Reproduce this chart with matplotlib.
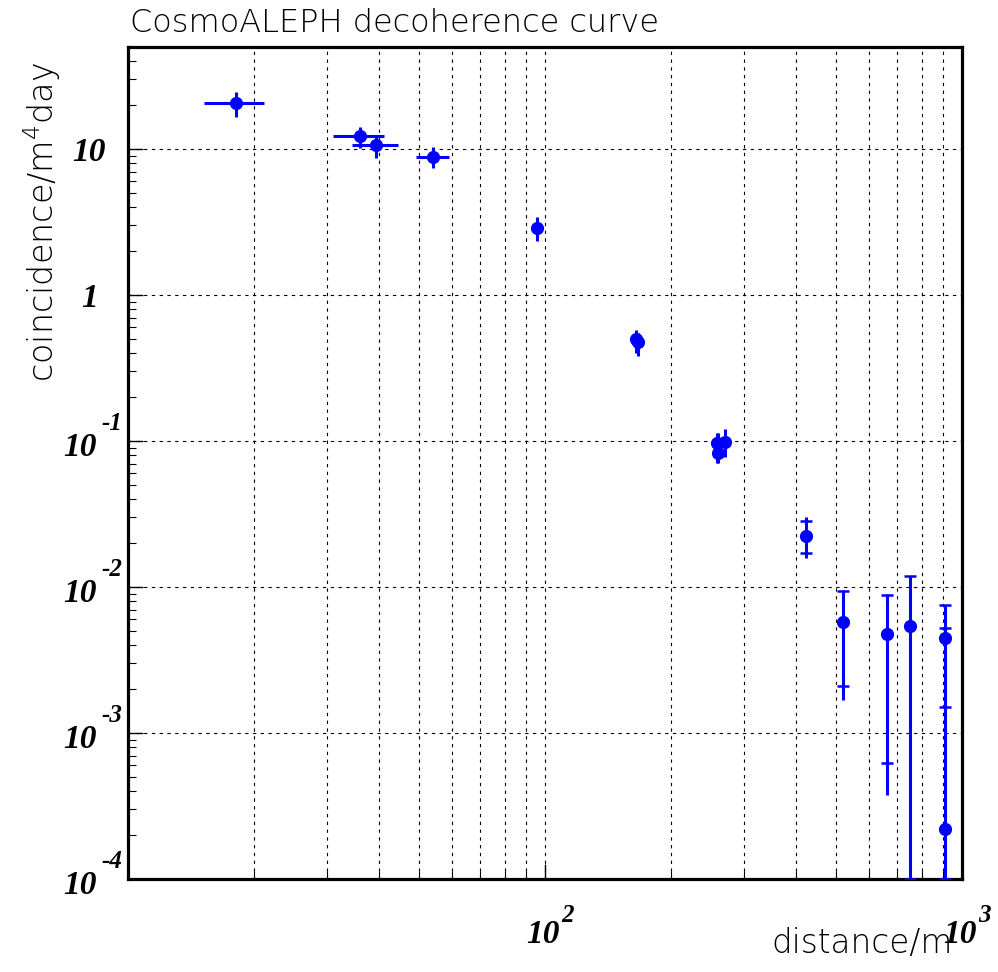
import numpy as np
import matplotlib
matplotlib.use("Agg")
from matplotlib import pyplot as plt
from matplotlib.ticker import FixedLocator, NullFormatter

# data (distance in m, rate in coincidences / m^4 day)
dist = [18.2, 36.0, 39.4, 53.8, 95.7, 165.0, 167.0, 258.5, 260.0, 270.0,
        423.0, 519.0, 661.0, 750.0, 910.0, 910.0]
rate = [20.7, 12.3, 10.6, 8.8, 2.88, 0.50, 0.476, 0.0968, 0.0828, 0.0984,
        0.0223, 0.00575, 0.00476, 0.0054, 0.00448, 0.00022]
dist_lo = [15.2, 31.0, 34.4, 49.1, 93.1, 165.0, 167.0, 258.5, 260.0, 270.0,
           423.0, 519.0, 661.0, 750.0, 910.0, 910.0]
dist_hi = [21.2, 41.1, 44.4, 58.9, 98.9, 165.0, 167.0, 258.5, 260.0, 270.0,
           423.0, 519.0, 661.0, 750.0, 910.0, 910.0]
rate_lo = [16.6, 10.2, 8.7, 7.4, 2.34, 0.40, 0.382, 0.0706, 0.0706, 0.0777,
           0.0158, 0.00168, 0.000376, 1e-5, 0.00151, 1e-5]
rate_hi = [24.6, 14.2, 12.3, 10.3, 3.42, 0.575, 0.55, 0.1135, 0.1135, 0.1207,
           0.030, 0.0095, 0.00895, 0.0119, 0.00753, 0.00524]

# end ticks drawn on the larger error bars
cap_x = [423.0, 423.0, 519.0, 519.0, 661.0, 661.0, 750.0, 750.0,
         910.0, 910.0, 910.0, 910.0]
cap_y = [0.0283, 0.0171, 0.0094, 0.0021, 0.0088, 0.00062, 0.0119, 1.0e-4,
         0.00753, 0.00151, 0.00524, 1.0e-4]

# axis labels: (tick value, mantissa, exponent)
x_ticks = [100, 1000]
x_tick_base = ['10', '10']
x_tick_exp = ['2', '3']
y_ticks = [1e-4, 1e-3, 1e-2, 1e-1, 1, 10]
y_tick_base = ['10', '10', '10', '10', '1', '10']
y_tick_exp = ['-4', '-3', '-2', '-1', '', '']

W, H = 998, 972
fig = plt.figure(figsize=(W / 100, H / 100), dpi=100)
ax = fig.add_axes([128 / W, 1 - 879 / H, (962 - 128) / W, (879 - 47) / H])
ax.set_xscale('log')
ax.set_yscale('log')
ax.set_xlim(10, 1000)
ax.set_ylim(1e-4, 50)

d = np.array(dist)
r = np.array(rate)
xerr = [d - np.array(dist_lo), np.array(dist_hi) - d]
yerr = [r - np.array(rate_lo), np.array(rate_hi) - r]
ax.errorbar(d, r, xerr=xerr, yerr=yerr, fmt='o', color='blue', ms=8.5,
            elinewidth=2.2, capsize=0, zorder=3)
ax.plot(cap_x, cap_y, ls='none', marker='_', color='blue', ms=8, mew=1.8,
        zorder=3)

# ticks
ax.xaxis.set_major_locator(FixedLocator(x_ticks))
ax.xaxis.set_minor_locator(FixedLocator([v * m for v in (10, 100) for m in range(2, 10)]))
ax.xaxis.set_minor_formatter(NullFormatter())
ax.yaxis.set_major_locator(FixedLocator(y_ticks))
ax.yaxis.set_minor_locator(FixedLocator([v * m for v in (1e-4, 1e-3, 1e-2, 1e-1, 1, 10)
                                         for m in range(2, 10)]))
ax.yaxis.set_minor_formatter(NullFormatter())
ax.tick_params(axis='both', which='major', direction='in', length=11, width=1,
               top=False, right=False, labelleft=False, labelbottom=False)
ax.tick_params(axis='both', which='minor', direction='in', length=6, width=0.8,
               top=False, right=False)
ax.tick_params(axis='y', which='minor', length=5.5)

# ROOT style labels: bold italic mantissa with a raised exponent
tf = dict(family='Liberation Serif', weight='bold', style='italic')
for v, b, e in zip(x_ticks, x_tick_base, x_tick_exp):
    ax.annotate(b, (v, 0), xycoords=('data', 'axes fraction'), xytext=(-2, -64),
                textcoords='offset pixels', ha='center', va='baseline', size=24, **tf)
    ax.annotate(e, (v, 0), xycoords=('data', 'axes fraction'), xytext=(16, -43),
                textcoords='offset pixels', ha='left', va='baseline', size=18, **tf)
for v, b, e in zip(y_ticks, y_tick_base, y_tick_exp):
    if e:
        ax.annotate(b, (0, v), xycoords=('axes fraction', 'data'), xytext=(-31, -15),
                    textcoords='offset pixels', ha='right', va='baseline', size=24, **tf)
        ax.annotate(e, (0, v), xycoords=('axes fraction', 'data'), xytext=(-27, 11),
                    textcoords='offset pixels', ha='left', va='baseline', size=18, **tf)
    else:
        dx = -22 if b == '10' else -30
        ax.annotate(b, (0, v), xycoords=('axes fraction', 'data'), xytext=(dx, -12),
                    textcoords='offset pixels', ha='right', va='baseline', size=24, **tf)

# dotted grid
ax.grid(True, axis='x', which='both', color='black', ls=(0, (3, 4)), lw=0.8)
ax.grid(True, axis='y', which='major', color='black', ls=(0, (3, 4)), lw=0.8)
ax.grid(False, axis='y', which='minor')
ax.set_axisbelow(True)

for s in ax.spines.values():
    s.set_linewidth(2.3)

labfont = dict(family='DejaVu Sans', weight='light', color='black')
fig.text(130 / W, 1 - 32 / H, 'CosmoALEPH decoherence curve', ha='left',
         va='baseline', size=23, **labfont)
fig.text(953 / W, 1 - 953 / H, 'distance/m', ha='right', va='baseline', size=23.5, **labfont)
ax.set_ylabel(r'coincidence/m$\mathregular{^{4}}$day', loc='top', size=24, **labfont)
ax.yaxis.set_label_coords(-0.078, 0.982)

fig.savefig('out.png', dpi=100)
